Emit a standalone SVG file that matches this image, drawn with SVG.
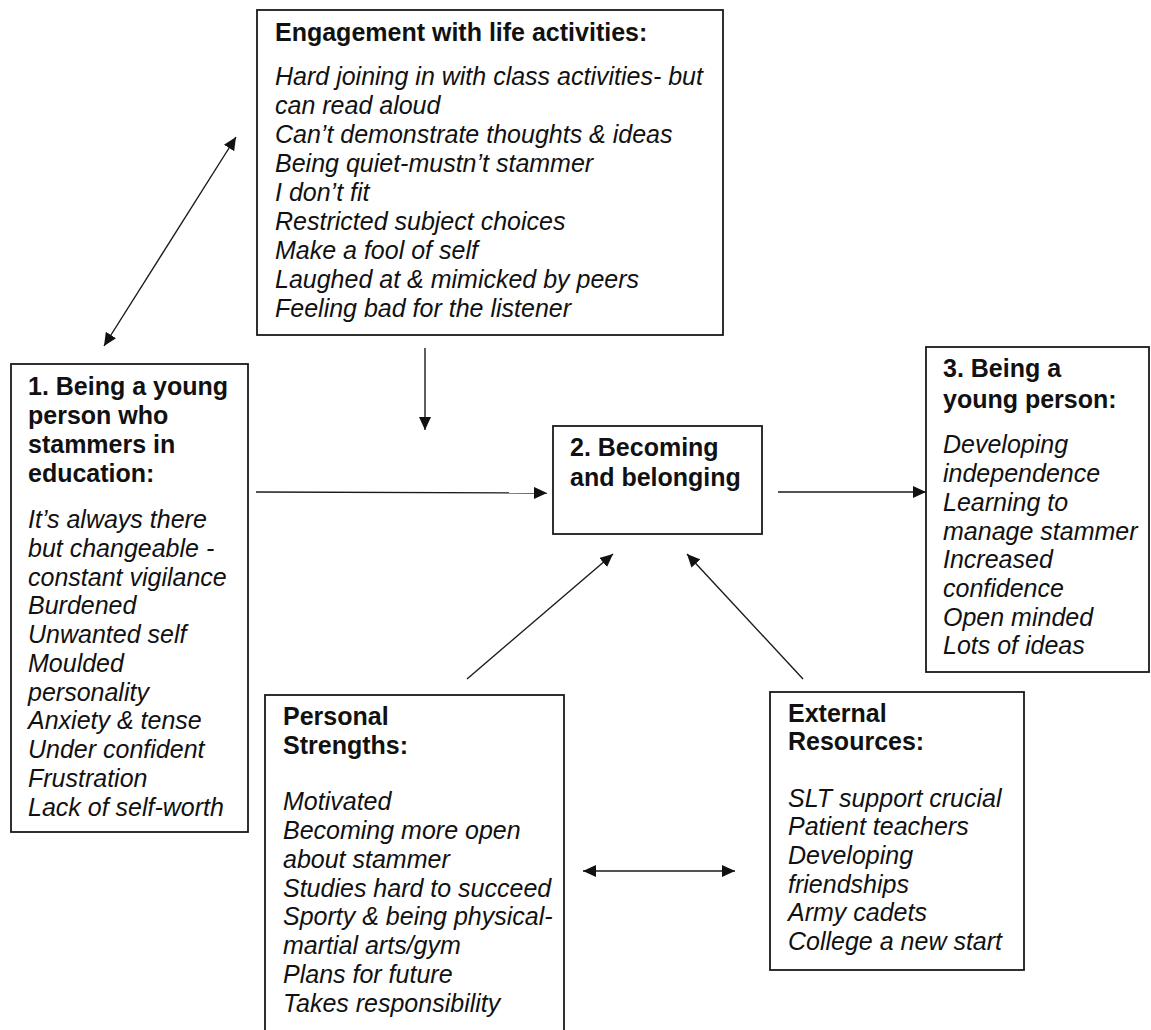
<svg xmlns="http://www.w3.org/2000/svg" width="1151" height="1030" viewBox="0 0 1151 1030">
<style>
.box{fill:#fff;stroke:#1a1a1a;stroke-width:1.8}
.h{font-family:"Liberation Sans",Arial,sans-serif;font-size:25px;font-weight:bold;fill:#111}
.i{font-family:"Liberation Sans",Arial,sans-serif;font-size:25px;font-style:italic;fill:#111}
.c{fill:none;stroke:#1a1a1a;stroke-width:1.4}
</style>
<defs>
<marker id="ah" markerUnits="userSpaceOnUse" markerWidth="14" markerHeight="12" viewBox="0 0 14 12" refX="13" refY="6" orient="auto-start-reverse">
<path d="M0,0 L13,6 L0,12 Z" fill="#111"/>
</marker>
</defs>
<rect width="1151" height="1030" fill="#fff"/>
<g id="engagement">
<rect class="box" x="257" y="10" width="466" height="325"/>
<text class="h" x="275" y="41">Engagement with life activities:</text>
<text class="i" x="275" y="85">Hard joining in with class activities- but</text>
<text class="i" x="275" y="114">can read aloud</text>
<text class="i" x="275" y="143">Can’t demonstrate thoughts &amp; ideas</text>
<text class="i" x="275" y="172">Being quiet-mustn’t stammer</text>
<text class="i" x="275" y="201">I don’t fit</text>
<text class="i" x="275" y="230">Restricted subject choices</text>
<text class="i" x="275" y="259">Make a fool of self</text>
<text class="i" x="275" y="288">Laughed at &amp; mimicked by peers</text>
<text class="i" x="275" y="317">Feeling bad for the listener</text>
</g>
<g id="node1">
<rect class="box" x="11" y="364" width="237" height="468"/>
<text class="h" x="28" y="395">1. Being a young</text>
<text class="h" x="28" y="424">person who</text>
<text class="h" x="28" y="453">stammers in</text>
<text class="h" x="28" y="482">education:</text>
<text class="i" x="28" y="528">It’s always there</text>
<text class="i" x="28" y="557">but changeable -</text>
<text class="i" x="28" y="586">constant vigilance</text>
<text class="i" x="28" y="614">Burdened</text>
<text class="i" x="28" y="643">Unwanted self</text>
<text class="i" x="28" y="672">Moulded</text>
<text class="i" x="28" y="701">personality</text>
<text class="i" x="28" y="729">Anxiety &amp; tense</text>
<text class="i" x="28" y="758">Under confident</text>
<text class="i" x="28" y="787">Frustration</text>
<text class="i" x="28" y="816">Lack of self-worth</text>
</g>
<g id="node2">
<rect class="box" x="553" y="426" width="209" height="108"/>
<text class="h" x="570" y="456">2. Becoming</text>
<text class="h" x="570" y="486">and belonging</text>
</g>
<g id="node3">
<rect class="box" x="926" y="347" width="223" height="325"/>
<text class="h" x="943" y="377">3. Being a</text>
<text class="h" x="943" y="408">young person:</text>
<text class="i" x="943" y="453">Developing</text>
<text class="i" x="943" y="482">independence</text>
<text class="i" x="943" y="511">Learning to</text>
<text class="i" x="943" y="540">manage stammer</text>
<text class="i" x="943" y="568">Increased</text>
<text class="i" x="943" y="597">confidence</text>
<text class="i" x="943" y="626">Open minded</text>
<text class="i" x="943" y="654">Lots of ideas</text>
</g>
<g id="personal">
<rect class="box" x="265" y="695" width="299" height="345"/>
<text class="h" x="283" y="725">Personal</text>
<text class="h" x="283" y="754">Strengths:</text>
<text class="i" x="283" y="810">Motivated</text>
<text class="i" x="283" y="839">Becoming more open</text>
<text class="i" x="283" y="868">about stammer</text>
<text class="i" x="283" y="897">Studies hard to succeed</text>
<text class="i" x="283" y="925">Sporty &amp; being physical-</text>
<text class="i" x="283" y="954">martial arts/gym</text>
<text class="i" x="283" y="983">Plans for future</text>
<text class="i" x="283" y="1012">Takes responsibility</text>
</g>
<g id="external">
<rect class="box" x="770" y="692" width="254" height="278"/>
<text class="h" x="788" y="722">External</text>
<text class="h" x="788" y="750">Resources:</text>
<text class="i" x="788" y="807">SLT support crucial</text>
<text class="i" x="788" y="835">Patient teachers</text>
<text class="i" x="788" y="864">Developing</text>
<text class="i" x="788" y="893">friendships</text>
<text class="i" x="788" y="921">Army cadets</text>
<text class="i" x="788" y="950">College a new start</text>
</g>
<g id="connectors">
<path class="c" d="M104,346 L236,137" marker-start="url(#ah)" marker-end="url(#ah)"/>
<path class="c" d="M425,348 L425,430" marker-end="url(#ah)"/>
<path class="c" d="M256,492 L547,493" marker-end="url(#ah)"/>
<path class="c" d="M778,492 L926,492" marker-end="url(#ah)"/>
<path class="c" d="M467,679 L613,554" marker-end="url(#ah)"/>
<path class="c" d="M803,679 L687,554" marker-end="url(#ah)"/>
<path class="c" d="M583,871 L735,871" marker-start="url(#ah)" marker-end="url(#ah)"/>
</g>
</svg>
